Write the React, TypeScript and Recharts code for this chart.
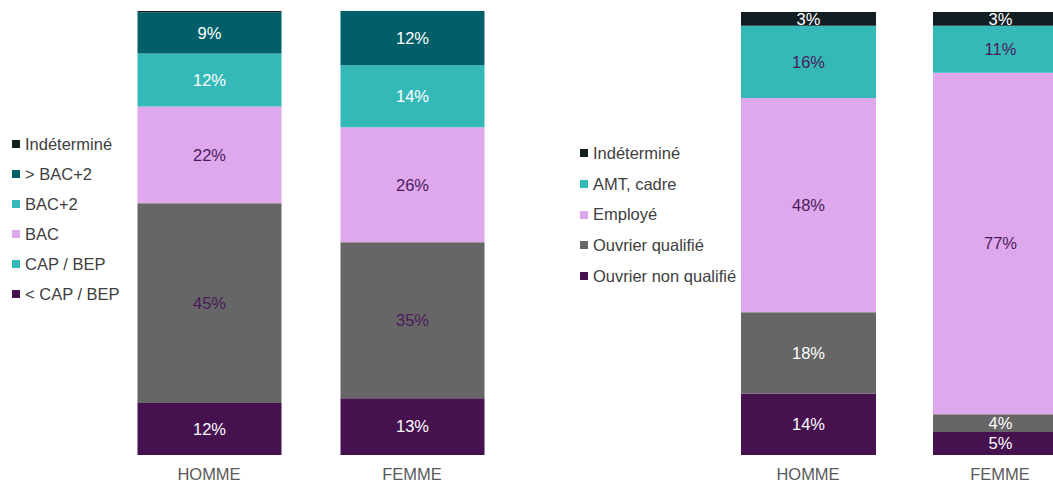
import { BarChart, Bar, XAxis, YAxis, LabelList, Legend } from "recharts";

const categories = ["HOMME", "FEMME"];

// left chart: diplôme
const diplomaNames = ["< CAP / BEP", "CAP / BEP", "BAC", "BAC+2", "> BAC+2", "Indéterminé"];
const lessCapBep = [11.7, 12.8];
const capBep = [45.0, 35.1];
const bac = [21.8, 25.9];
const bacPlus2 = [11.9, 14.0];
const moreBacPlus2 = [9.3, 12.2];
const diplomaUnknown = [0.3, 0];
const diplomaColors = ["#45114f", "#666666", "#e0a8ec", "#35b8b8", "#005f69", "#131e22"];
const diplomaLabelColors = ["#ffffff", "#4a1a5c", "#4a1a5c", "#ffffff", "#ffffff", "#ffffff"];
// the legend of the source shows CAP / BEP in teal
const diplomaLegendColors = ["#45114f", "#35b8b8", "#e0a8ec", "#35b8b8", "#005f69", "#131e22"];

// right chart: catégorie socio-professionnelle
const jobNames = ["Ouvrier non qualifié", "Ouvrier qualifié", "Employé", "AMT, cadre", "Indéterminé"];
const unskilled = [13.9, 5.2];
const skilled = [18.3, 4.0];
const employee = [48.4, 77.1];
const manager = [16.3, 10.6];
const jobUnknown = [3.1, 3.1];
const jobColors = ["#45114f", "#666666", "#e0a8ec", "#35b8b8", "#131e22"];
const jobLabelColors = ["#ffffff", "#ffffff", "#4a1a5c", "#4a1a5c", "#ffffff"];

const diplomaValues = [lessCapBep, capBep, bac, bacPlus2, moreBacPlus2, diplomaUnknown];
const jobValues = [unskilled, skilled, employee, manager, jobUnknown];

function buildRows(values: number[][]) {
  return categories.map((cat, i) => {
    const row: any = { name: cat };
    values.forEach((serie, s) => {
      row["s" + s] = serie[i];
    });
    return row;
  });
}

const diplomaData = buildRows(diplomaValues);
const jobData = buildRows(jobValues);

const FONT = '"Liberation Sans", Arial, sans-serif';
const FS = 16.5;

const pct = (v: any) => (Number(v) >= 1 ? `${Math.round(Number(v))}%` : "");

function SideLegend({ names, colors, gap }: { names: string[]; colors: string[]; gap: number }) {
  // legend reads top-down, reversed from the stack order
  const items = names.map((n, i) => ({ n, c: colors[i] })).reverse();
  return (
    <div>
      {items.map((it) => (
        <div
          key={it.n}
          style={{
            display: "flex",
            alignItems: "center",
            height: gap,
            fontSize: FS,
            color: "#404040",
            whiteSpace: "nowrap",
          }}
        >
          <span
            style={{ width: 8, height: 8, background: it.c, display: "inline-block", marginRight: 5 }}
          />
          {it.n}
        </div>
      ))}
    </div>
  );
}

export default function App() {
  return (
    <div
      style={{
        position: "fixed",
        left: 0,
        top: 0,
        width: 1053,
        height: 484,
        overflow: "hidden",
        background: "#fff",
        fontFamily: FONT,
      }}
    >
      <div style={{ position: "absolute", left: 0, top: 0 }}>
        <BarChart
          width={520}
          height={484}
          data={diplomaData}
          margin={{ top: 11, right: 6.5, bottom: 0, left: 107.5 }}
          barCategoryGap={0}
        >
          <XAxis
            dataKey="name"
            axisLine={false}
            tickLine={false}
            tickSize={0}
            tickMargin={13}
            height={29}
            tick={{ fill: "#595959", fontSize: FS, fontFamily: FONT }}
          />
          <YAxis hide domain={[0, 100]} allowDataOverflow />
          <Legend
            layout="vertical"
            align="center"
            verticalAlign="middle"
            wrapperStyle={{ left: 12, top: 129, width: "auto" }}
            content={() => <SideLegend names={diplomaNames} colors={diplomaLegendColors} gap={30} />}
          />
          {diplomaNames.map((n, s) => (
            <Bar
              key={n}
              dataKey={"s" + s}
              name={n}
              stackId="a"
              fill={diplomaColors[s]}
              barSize={144}
              isAnimationActive={false}
            >
              <LabelList
                dataKey={"s" + s}
                position="center"
                formatter={pct}
                fill={diplomaLabelColors[s]}
                stroke="none"
                style={{ fontSize: FS, fontFamily: FONT }}
              />
            </Bar>
          ))}
        </BarChart>
      </div>

      <div style={{ position: "absolute", left: 560, top: 0 }}>
        <BarChart
          width={560}
          height={484}
          data={jobData}
          margin={{ top: 12, right: 24, bottom: 0, left: 152 }}
          barCategoryGap={0}
        >
          <XAxis
            dataKey="name"
            axisLine={false}
            tickLine={false}
            tickSize={0}
            tickMargin={13}
            height={29}
            tick={{ fill: "#595959", fontSize: FS, fontFamily: FONT }}
          />
          <YAxis hide domain={[0, 100]} allowDataOverflow />
          <Legend
            layout="vertical"
            align="center"
            verticalAlign="middle"
            wrapperStyle={{ left: 20, top: 138, width: "auto" }}
            content={() => <SideLegend names={jobNames} colors={jobColors} gap={30.7} />}
          />
          {jobNames.map((n, s) => (
            <Bar
              key={n}
              dataKey={"s" + s}
              name={n}
              stackId="a"
              fill={jobColors[s]}
              barSize={135}
              isAnimationActive={false}
            >
              <LabelList
                dataKey={"s" + s}
                position="center"
                formatter={pct}
                fill={jobLabelColors[s]}
                stroke="none"
                style={{ fontSize: FS, fontFamily: FONT }}
              />
            </Bar>
          ))}
        </BarChart>
      </div>
    </div>
  );
}
